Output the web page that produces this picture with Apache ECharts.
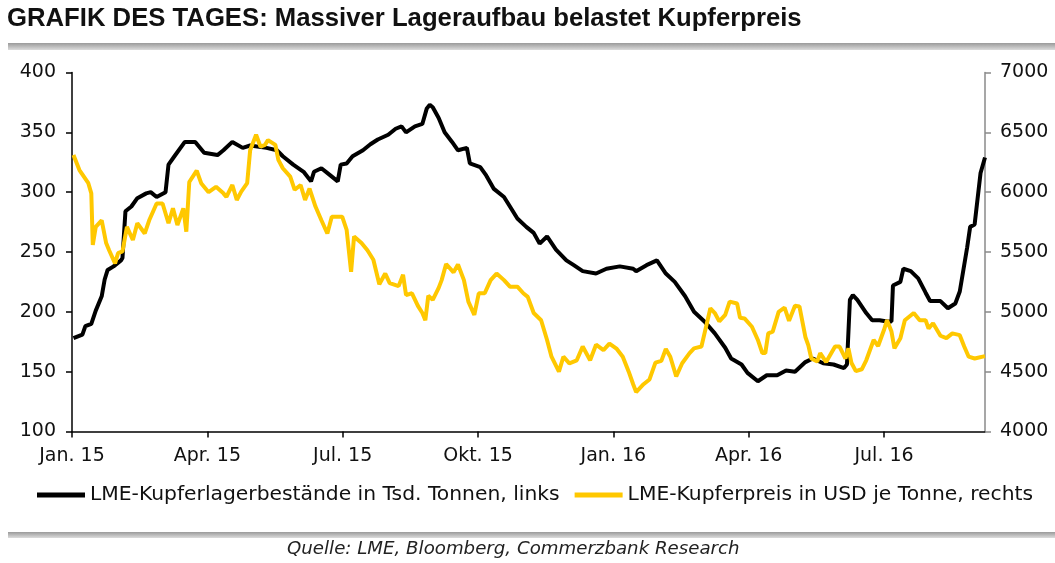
<!DOCTYPE html>
<html>
<head>
<meta charset="utf-8">
<script src="https://cdn.jsdelivr.net/npm/echarts@6/dist/echarts.min.js"></script>
<style>
html,body{margin:0;padding:0;background:#fff;}
#chart{width:1055px;height:563px;}
</style>
</head>
<body>
<div id="chart"></div>
<script>
// x values: days since 2015-01-01
const tickLabels = ["Jan. 15","Apr. 15","Jul. 15","Okt. 15","Jan. 16","Apr. 16","Jul. 16"];

const stockDays = [1,7,9,13,16,20,22,24,28,33,34,36,40,44,50,53,57,63,65,69,76,83,89,98,102,108,115,120,131,138,142,149,156,161,163,168,174,179,181,185,189,196,201,206,213,218,222,225,231,236,239,241,243,247,251,256,260,266,268,275,279,284,291,295,300,306,311,315,320,326,333,338,344,353,360,369,378,380,387,394,400,406,413,419,426,433,440,444,451,455,462,468,475,481,487,494,499,506,513,520,522,524,526,529,535,539,544,549,552,553,558,560,565,570,575,578,585,590,595,598,603,605,608,612,615];
const stockValues = [178,181,188,190,201,213,227,235,238,243,245,284,288,295,299,300,296,300,323,330,342,342,333,331,335,342,337,339,337,335,330,323,317,309,317,320,314,309,323,324,330,335,340,344,348,353,355,350,355,357,370,373,371,362,350,342,335,337,324,321,314,303,296,288,278,271,266,257,263,252,243,239,234,232,236,238,236,234,239,243,232,225,213,200,192,182,170,161,156,149,142,147,147,151,150,158,161,157,156,153,156,210,214,210,199,193,193,192,192,222,225,236,234,228,216,209,209,203,207,217,254,271,273,316,329];

const priceDays = [1,5,11,13,14,16,20,23,25,29,31,34,37,41,44,49,52,57,61,65,68,71,75,77,79,84,87,92,97,102,104,108,111,114,118,120,124,127,130,132,137,139,142,147,150,154,157,160,164,168,172,175,182,185,188,190,195,199,203,207,211,214,220,223,225,229,233,236,238,240,243,247,249,252,257,260,264,267,271,274,278,282,286,291,295,300,304,307,311,316,320,323,328,331,335,340,344,349,353,358,362,367,371,375,378,380,385,389,393,397,400,403,407,411,416,419,424,427,430,433,436,440,443,448,450,453,458,462,465,467,469,472,476,480,483,487,490,494,496,498,502,504,508,514,517,521,523,525,528,532,535,540,543,547,549,552,554,558,561,567,571,575,577,580,585,589,593,598,601,604,608,615];
const priceValues = [6310,6185,6075,5990,5560,5710,5765,5575,5515,5405,5490,5505,5710,5600,5740,5655,5765,5905,5905,5740,5865,5725,5865,5670,6085,6180,6075,6000,6045,5990,5960,6060,5935,6005,6075,6350,6480,6380,6395,6435,6395,6270,6200,6130,6020,6060,5935,6030,5880,5765,5655,5795,5795,5685,5335,5630,5575,5515,5435,5230,5320,5240,5215,5310,5140,5155,5050,4990,4930,5135,5100,5200,5265,5400,5330,5395,5265,5085,4975,5155,5155,5265,5320,5265,5210,5210,5155,5125,4990,4930,4765,4625,4500,4625,4570,4595,4710,4595,4725,4680,4735,4690,4625,4500,4395,4330,4395,4435,4575,4590,4690,4625,4460,4570,4655,4695,4710,4870,5030,4990,4920,4975,5085,5070,4950,4945,4875,4765,4655,4655,4820,4835,5000,5035,4925,5050,5045,4790,4720,4610,4585,4655,4580,4710,4710,4610,4695,4575,4505,4520,4595,4765,4715,4850,4930,4835,4695,4780,4930,4990,4930,4930,4860,4905,4800,4780,4820,4805,4710,4625,4610,4630];

const seriesNames = ["LME-Kupferlagerbestände in Tsd. Tonnen, links","LME-Kupferpreis in USD je Tonne, rechts"];

const QUARTER = 547 / 6; // days per quarter tick (Jan 2015 .. Jul 2016)
const FONT = "'DejaVu Sans', sans-serif";

const chart = echarts.init(document.getElementById('chart'), null, {renderer: 'canvas'});
chart.setOption({
  animation: false,
  backgroundColor: '#fff',
  title: [
    {text: 'GRAFIK DES TAGES: Massiver Lageraufbau belastet Kupferpreis', left: 7, top: 6, padding: 0,
     textStyle: {fontFamily: "'Liberation Sans', Arial, sans-serif", fontWeight: 'bold', fontSize: 25.7, color: '#111'}},
    {text: 'Quelle: LME, Bloomberg, Commerzbank Research', left: 287, top: 540, padding: 0,
     textStyle: {fontFamily: FONT, fontStyle: 'italic', fontWeight: 'normal', fontSize: 18.2, color: '#222'}}
  ],
  graphic: [
    {type: 'rect', left: 8, top: 43, shape: {width: 1047, height: 7},
     style: {fill: new echarts.graphic.LinearGradient(0,0,0,1,[{offset:0,color:'#9a9a9a'},{offset:1,color:'#dcdcdc'}])}, silent: true},
    {type: 'rect', left: 8, top: 532, shape: {width: 1047, height: 6},
     style: {fill: new echarts.graphic.LinearGradient(0,0,0,1,[{offset:0,color:'#9a9a9a'},{offset:1,color:'#dcdcdc'}])}, silent: true}
  ],
  legend: {
    left: 37, top: 485, padding: 0, icon: 'rect', itemWidth: 48, itemHeight: 5, itemGap: 15,
    textStyle: {fontFamily: FONT, fontSize: 20.3, color: '#111'},
    data: seriesNames
  },
  grid: {left: 72, right: 70, top: 72.5, bottom: 131.5, containLabel: false},
  xAxis: {
    type: 'value', min: 0, max: 615, interval: QUARTER,
    axisLine: {show: true, lineStyle: {color: '#000', width: 1.5}},
    axisTick: {show: true, length: 6, lineStyle: {color: '#000', width: 1.5}},
    splitLine: {show: false},
    axisLabel: {
      margin: 15, fontFamily: FONT, fontSize: 19, color: '#111',
      showMaxLabel: false,
      formatter: function (v) { const i = Math.round(v / QUARTER); return tickLabels[i] || ''; }
    }
  },
  yAxis: [
    {type: 'value', position: 'left', min: 100, max: 400, interval: 50,
     axisLine: {show: true, lineStyle: {color: '#000', width: 1.5}},
     axisTick: {show: true, length: 6, lineStyle: {color: '#000', width: 1.5}},
     splitLine: {show: false},
     axisLabel: {margin: 16, fontFamily: FONT, fontSize: 19, color: '#111', formatter: v => String(v)}},
    {type: 'value', position: 'right', min: 4000, max: 7000, interval: 500,
     axisLine: {show: true, lineStyle: {color: '#8a8a8a', width: 1.5}},
     axisTick: {show: true, length: 6, lineStyle: {color: '#8a8a8a', width: 1.5}},
     splitLine: {show: false},
     axisLabel: {margin: 15, fontFamily: FONT, fontSize: 19, color: '#111', formatter: v => String(v)}}
  ],
  series: [
    {name: seriesNames[0], type: 'line', yAxisIndex: 0, showSymbol: false, symbol: 'none',
     color: '#000', lineStyle: {color: '#000', width: 4},
     data: stockDays.map((d, i) => [d, stockValues[i]])},
    {name: seriesNames[1], type: 'line', yAxisIndex: 1, showSymbol: false, symbol: 'none',
     color: '#FFC800', lineStyle: {color: '#FFC800', width: 4},
     data: priceDays.map((d, i) => [d, priceValues[i]])}
  ]
});
</script>
</body>
</html>
